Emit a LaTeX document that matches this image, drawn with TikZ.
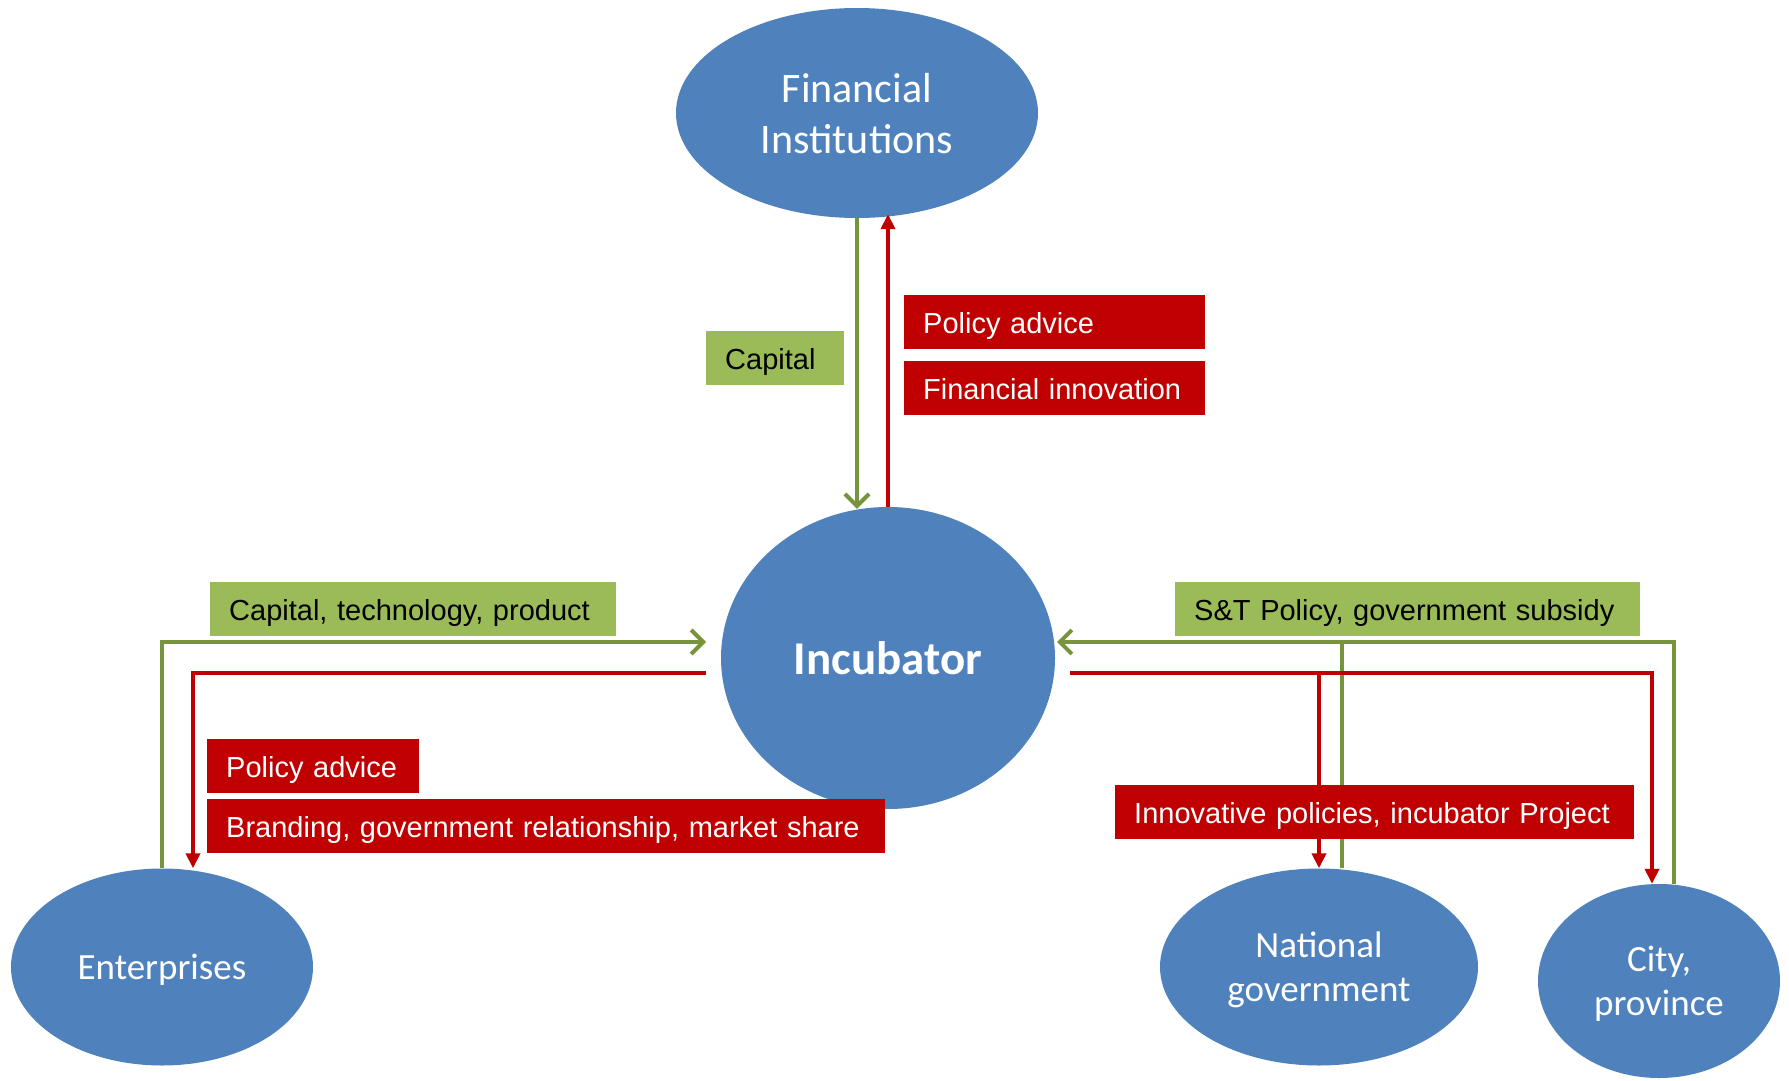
\documentclass[tikz,border=0pt]{standalone}
\usepackage{fontspec}
\setmainfont{Liberation Sans}
\newfontfamily\calfont{Carlito}
\usepackage{tikz}
\usetikzlibrary{calc,shapes.geometric,arrows.meta}
\usepackage{color}
\definecolor{ellblue}{HTML}{4F81BD}
\definecolor{boxgreen}{HTML}{9BBB59}
\definecolor{lngreen}{HTML}{77933C}
\definecolor{boxred}{HTML}{C00000}

\begin{document}
\begin{tikzpicture}[x=1pt,y=-1pt,
    actor/.style={ellipse,fill=ellblue,inner sep=0pt,text=white,align=center,
      text depth=0pt,font=\calfont\fontsize{37}{44}\selectfont},
    gbox/.style={fill=boxgreen,anchor=west,inner xsep=19pt,inner ysep=0pt,
      minimum height=54pt,text height=28pt,text depth=6pt,align=left,
      font=\fontsize{29}{34}\selectfont},
    rbox/.style={gbox,fill=boxred,text=white},
    gline/.style={draw=lngreen,line width=4pt},
    garrow/.style={gline,-{Straight Barb[length=12pt,width=24pt]}},
    rline/.style={draw=boxred,line width=4pt},
    rarrow/.style={rline,-{Triangle[length=15pt,width=14pt]}}]
          \useasboundingbox (0,0) rectangle (1789,1081);

          %%    % actors
          \node[actor,minimum width=362pt,minimum height=210pt,text depth=-5pt,
            font=\calfont\fontsize{42}{51}\selectfont] (fin) at (857,113) {Financial\\Institutions};
          \node[actor,minimum width=334pt,minimum height=302pt,
            font=\calfont\bfseries\fontsize{47}{56}\selectfont] (inc) at (888,658) {Incubator};
          \node[actor,minimum width=302pt,minimum height=197pt] (ent) at (162,967) {Enterprises};
          \node[actor,minimum width=318pt,minimum height=197pt] (nat) at (1319,967) {National\\government};
          \node[actor,minimum width=242pt,minimum height=194pt] (city) at (1659,981) {City,\\province};

          \coordinate (inL1) at (706,642);
          \coordinate (inL2) at (706,673);
          \coordinate (inR1) at (1057,642);
          \coordinate (inR2) at (1070,673);

          %%    % green flows
          \draw[garrow] (fin.south) -- ([yshift=-2pt]fin.south |- inc.north);
          \draw[garrow] (ent.north) |- (inL1);
          \draw[garrow] ([xshift=15pt]city.north) |- (inR1);
          \draw[gline] ([xshift=23pt]nat.north) -- ([xshift=23pt]nat.north |- inR1);

          %%    % red flows
          \draw[rarrow] (inc.north) -- ([yshift=4pt]inc.north |- fin.south);
          \draw[rarrow] (inL2) -| ([xshift=31pt]ent.north);
          \draw[rarrow] (inR2) -| ([xshift=-7pt]city.north);
          \draw[rarrow] (nat.north |- inR2) -- (nat.north);

          %%    % labels
          \node[gbox,text width=100pt] (cap) at (706,358) {Capital};
          \node[rbox,text width=263pt] (pa1) at (904,322) {Policy advice};
          \node[rbox,text width=263pt] (fi) at (904,388) {Financial innovation};
          \node[gbox,text width=368pt] (ctp) at (210,609) {Capital, technology, product};
          \node[rbox,text width=174pt] (pa2) at (207,766) {Policy advice};
          \node[rbox,text width=640pt] (br) at (207,826) {Branding, government relationship, market share};
          \node[gbox,text width=427pt] (st) at (1175,609) {S\&T Policy, government subsidy};
          \node[rbox,text width=481pt] (ip) at (1115,812) {Innovative policies, incubator Project};

        \end{tikzpicture}
\end{document}
